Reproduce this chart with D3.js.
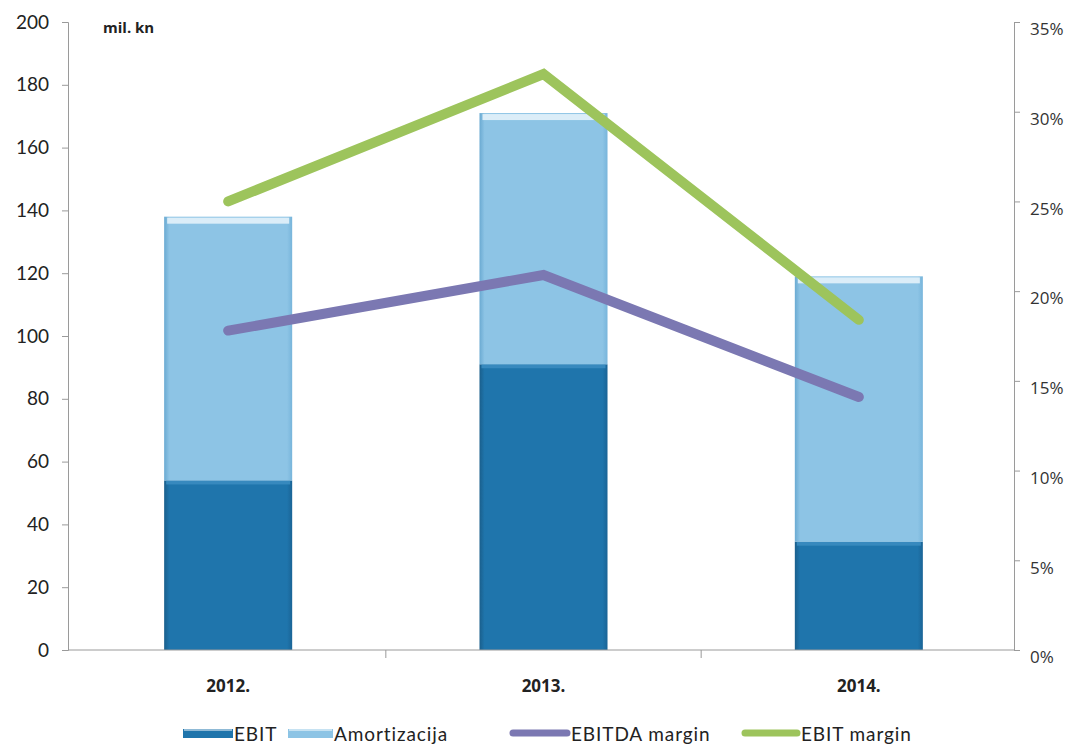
<!DOCTYPE html>
<html><head><meta charset="utf-8">
<script src="https://cdn.jsdelivr.net/npm/d3@7"></script>
<style>
body{margin:0;background:#fff;}
svg{display:block;font-family:Lato,"Open Sans",sans-serif;}
</style></head>
<body><svg id="chart" width="1084" height="747"></svg>
<script>
const categories = ["2012.", "2013.", "2014."];
const ebit = [54, 91, 34.5];
const amortizacija = [84, 80, 84.5];
const ebitdaMargin = [0.178, 0.209, 0.141];
const ebitMargin = [0.25, 0.321, 0.184];
const leftTicks = [0,20,40,60,80,100,120,140,160,180,200];
const rightTicks = [0,0.05,0.10,0.15,0.20,0.25,0.30,0.35];

const svg = d3.select("#chart");
const L = 68, R = 1014, T = 22, B = 650;

const x = d3.scaleBand().domain(categories).range([L + 2.5, R + 2.5]).paddingInner(0.594).paddingOuter(0.297);
const xc = d => x(d) + x.bandwidth()/2;
const y = d3.scaleLinear().domain([0,200]).range([B,T]);
const y2 = d3.scaleLinear().domain([0,0.35]).range([B,T]);

const defs = svg.append("defs");
function grad(id, c1, c2, c3){
  const g = defs.append("linearGradient").attr("id",id).attr("x1",0).attr("x2",1).attr("y1",0).attr("y2",0);
  g.append("stop").attr("offset","0%").attr("stop-color",c1);
  g.append("stop").attr("offset","4%").attr("stop-color",c2);
  g.append("stop").attr("offset","96%").attr("stop-color",c2);
  g.append("stop").attr("offset","100%").attr("stop-color",c3);
}
grad("gDark","#1a5f8c","#1f75ac","#1a6496");
grad("gLight","#6aaad2","#8dc4e5","#78b5db");

// axes
const gl = svg.append("g").attr("transform",`translate(${L},0)`)
  .call(d3.axisLeft(y).tickValues(leftTicks).tickSize(6).tickPadding(13));
gl.select(".domain").attr("stroke","#9a9a9a");
gl.selectAll(".tick line").attr("stroke","#9a9a9a");
gl.selectAll("text").attr("font-size",19).attr("fill","#222").attr("font-family","Lato,'Open Sans',sans-serif");

const gr = svg.append("g").attr("transform",`translate(${R},0)`)
  .call(d3.axisRight(y2).tickValues(rightTicks).tickSize(6).tickPadding(10).tickFormat(d3.format(".0%")));
gr.select(".domain").attr("stroke","#9a9a9a");
gr.selectAll(".tick line").attr("stroke","#9a9a9a");
gr.selectAll("text").attr("font-size",17).attr("fill","#333").attr("dy","0.75em").attr("font-family","'Open Sans',sans-serif");

// bars
const bars = svg.append("g");
categories.forEach((c,i)=>{
  const x0 = x(c), w = x.bandwidth();
  const y0 = y(0), y1 = y(ebit[i]), yt = y(ebit[i]+amortizacija[i]);
  bars.append("rect").attr("x",x0).attr("y",y1).attr("width",w).attr("height",y0-y1).attr("fill","url(#gDark)");
  bars.append("rect").attr("x",x0+2).attr("y",y1).attr("width",w-4).attr("height",4).attr("fill","#3a8cc0").attr("opacity",0.9);
  bars.append("rect").attr("x",x0).attr("y",yt).attr("width",w).attr("height",y1-yt).attr("fill","url(#gLight)");
  bars.append("rect").attr("x",x0+3).attr("y",yt+1).attr("width",w-6).attr("height",6).attr("fill","#e9f5fc").attr("opacity",0.85);
});

// x axis
svg.append("line").attr("x1",L).attr("x2",R).attr("y1",B).attr("y2",B).attr("stroke","#9a9a9a");
const gx = svg.append("g").attr("transform",`translate(0,${B})`)
  .call(d3.axisBottom(x).tickSize(0).tickPadding(30));
gx.select(".domain").remove();
gx.selectAll("text").attr("font-size",17).attr("font-weight","bold").attr("fill","#222").attr("font-family","'Open Sans',sans-serif");
[1,2].forEach(k=>{
  const xb = x(categories[k]) - x.step()*x.paddingInner()/2;
  svg.append("line").attr("x1",xb).attr("x2",xb).attr("y1",B).attr("y2",B+8).attr("stroke","#9a9a9a");
});

// lines
const line = d3.line().x((d,i)=>xc(categories[i])).y(d=>y2(d));
svg.append("path").datum(ebitdaMargin).attr("d",line).attr("fill","none")
  .attr("stroke","#7b78b2").attr("stroke-width",10).attr("stroke-linecap","round").attr("stroke-linejoin","miter");
svg.append("path").datum(ebitMargin).attr("d",line).attr("fill","none")
  .attr("stroke","#9dc45c").attr("stroke-width",10).attr("stroke-linecap","round").attr("stroke-linejoin","miter");

// unit label
svg.append("text").attr("x",103).attr("y",33).text("mil. kn").attr("font-size",15).attr("font-weight","bold").attr("fill","#222").attr("font-family","'Open Sans',sans-serif");

// legend
const legend = [
  {name:"EBIT", type:"bar", color:"#1f75ac", x:183, w:50},
  {name:"Amortizacija", type:"bar", color:"#8dc4e5", x:288, w:45},
  {name:"EBITDA margin", type:"line", color:"#7b78b2", x:510, w:60},
  {name:"EBIT margin", type:"line", color:"#9dc45c", x:742, w:58}
];
const lg = svg.append("g");
legend.forEach(d=>{
  if(d.type==="bar"){
    lg.append("rect").attr("x",d.x).attr("y",729).attr("width",d.w).attr("height",9).attr("fill",d.color);
    lg.append("rect").attr("x",d.x+1).attr("y",729).attr("width",d.w-2).attr("height",2).attr("fill","#ffffff").attr("opacity",0.5);
  } else {
    lg.append("line").attr("x1",d.x+3).attr("x2",d.x+d.w-3).attr("y1",733).attr("y2",733)
      .attr("stroke",d.color).attr("stroke-width",7).attr("stroke-linecap","round");
  }
  lg.append("text").attr("x",d.x+d.w+1).attr("y",741).text(d.name).attr("font-size",19).attr("fill","#222")
    .attr("letter-spacing","0.9px").attr("font-family","Lato,sans-serif");
});
</script></body></html>
